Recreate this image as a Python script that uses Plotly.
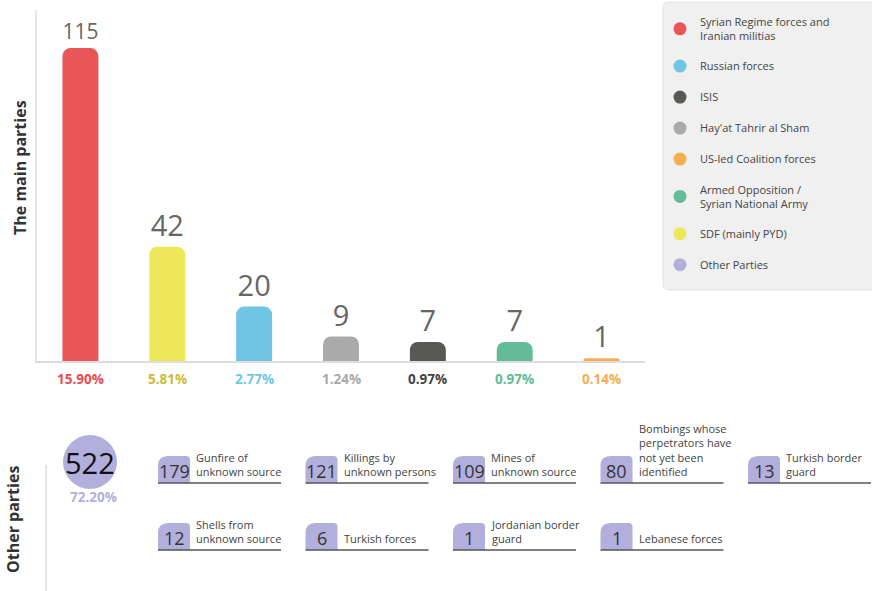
import plotly.graph_objects as go

# ---------------- data ----------------
parties = ["Syrian Regime forces and Iranian militias", "SDF (mainly PYD)", "Russian forces",
           "Hay'at Tahrir al Sham", "ISIS", "Armed Opposition / Syrian National Army",
           "US-led Coalition forces"]
victims = [115, 42, 20, 9, 7, 7, 1]
percents = ["15.90%", "5.81%", "2.77%", "1.24%", "0.97%", "0.97%", "0.14%"]
bar_colors = ["#ea5558", "#efe75a", "#6fc6e2", "#aaaaaa", "#585954", "#63bb97", "#f6ad52"]
pct_colors = ["#e84c50", "#c9bd35", "#6fc6e2", "#aaaaaa", "#444444", "#63bb97", "#f6ad52"]

legend_labels = ["Syrian Regime forces and<br>Iranian militias", "Russian forces", "ISIS",
                 "Hay'at Tahrir al Sham", "US-led Coalition forces",
                 "Armed Opposition /<br>Syrian National Army", "SDF (mainly PYD)", "Other Parties"]
legend_colors = ["#ea5558", "#6fc6e2", "#585954", "#aaaaaa", "#f6ad52", "#63bb97", "#efe75a", "#b3afdc"]

other_total = 522
other_pct = "72.20%"
other_values = [179, 121, 109, 80, 13, 12, 6, 1, 1]
other_labels = ["Gunfire of<br>unknown source", "Killings by<br>unknown persons",
                "Mines of<br>unknown source",
                "Bombings whose<br>perpetrators have<br>not yet been<br>identified",
                "Turkish border<br>guard", "Shells from<br>unknown source", "Turkish forces",
                "Jordanian border<br>guard", "Lebanese forces"]

# ---------------- layout helpers ----------------
W, H = 872, 591
FONT = "Open Sans"
LAV = "#b3afdc"


def X(p):
    return p / W


def Y(p):
    return 1 - p / H


fig = go.Figure()

fig.add_trace(go.Bar(
    x=parties, y=victims, marker=dict(color=bar_colors, line=dict(width=0), cornerradius=8),
    text=[str(v) for v in victims], textposition="outside",
    textfont=dict(size=29, color="#666666", family=FONT),
    cliponaxis=False, showlegend=False, hoverinfo="x+y"))

for i, (lab, col) in enumerate(zip(legend_labels, legend_colors)):
    fig.add_trace(go.Scatter(
        x=[None], y=[None], mode="markers", name=lab, legendgroup=f"g{i}", legendrank=i + 1,
        marker=dict(size=13, color=col, symbol="circle")))

shapes = []
annotations = []


def note(x, y, text, size, color, **kw):
    d = dict(x=x, y=y, xref="paper", yref="paper", text=text, showarrow=False,
             xanchor="center", yanchor="middle",
             font=dict(size=size, color=color, family=FONT))
    d.update(kw)
    annotations.append(d)


# percent labels under bars
for p, pc, col in zip(parties, percents, pct_colors):
    annotations.append(dict(x=p, xref="x", y=Y(379), yref="paper", text=f"<b>{pc}</b>",
                            xanchor="center", yanchor="middle",
                            showarrow=False, font=dict(size=13.5, color=col, family=FONT)))

# side titles
note(X(20), Y(168), "<b>The main parties</b>", 16, "#333333", textangle=-90)
note(X(13), Y(520), "<b>Other parties</b>", 16, "#333333", textangle=-90)


# legend background (rounded)
def rrect(x0, y0, x1, y1, r):
    return (f"M {X(x0+r)},{Y(y0)} L {X(x1-r)},{Y(y0)} Q {X(x1)},{Y(y0)} {X(x1)},{Y(y0+r)} "
            f"L {X(x1)},{Y(y1-r)} Q {X(x1)},{Y(y1)} {X(x1-r)},{Y(y1)} L {X(x0+r)},{Y(y1)} "
            f"Q {X(x0)},{Y(y1)} {X(x0)},{Y(y1-r)} L {X(x0)},{Y(y0+r)} Q {X(x0)},{Y(y0)} {X(x0+r)},{Y(y0)} Z")


shapes.append(dict(type="path", xref="paper", yref="paper", path=rrect(663, 2, 884, 290, 6),
                   fillcolor="#f0f0f0", line=dict(color="#e2e2e2", width=1), layer="below"))

# other parties section
shapes.append(dict(type="line", xref="paper", yref="paper", x0=X(46), x1=X(46), y0=Y(465), y1=Y(591),
                   line=dict(color="#dddddd", width=1.5)))
shapes.append(dict(type="circle", xref="paper", yref="paper", x0=X(63), x1=X(117), y0=Y(435), y1=Y(489),
                   fillcolor=LAV, line=dict(width=0)))
note(X(90), Y(462), str(other_total), 29, "#111111")
note(X(93), Y(497), f"<b>{other_pct}</b>", 13.5, LAV)

COL0, COLSTEP, TABW, TABH, LINEW = 158, 147.5, 32, 27, 123
ROWS_Y = [483, 550]
for i, (v, lab) in enumerate(zip(other_values, other_labels)):
    row, col = divmod(i, 5)
    x0 = COL0 + COLSTEP * col
    yb = ROWS_Y[row]
    yt = yb - TABH
    x1 = x0 + TABW
    r1, r2 = 10, 4
    path = (f"M {X(x0)},{Y(yb)} L {X(x0)},{Y(yt+r1)} Q {X(x0)},{Y(yt)} {X(x0+r1)},{Y(yt)} "
            f"L {X(x1-r2)},{Y(yt)} Q {X(x1)},{Y(yt)} {X(x1)},{Y(yt+r2)} L {X(x1)},{Y(yb)} Z")
    shapes.append(dict(type="path", xref="paper", yref="paper", path=path, fillcolor=LAV,
                       line=dict(width=0)))
    shapes.append(dict(type="line", xref="paper", yref="paper", x0=X(x0), x1=X(x0 + LINEW),
                       y0=Y(yb), y1=Y(yb), line=dict(color="#555555", width=1.3)))
    note(X((x0 + x1) / 2), Y(yb - TABH / 2 + 1), str(v), 18, "#333333")
    note(X(x1 + 4), Y(yb - 2), lab, 11, "#444444", xanchor="left", yanchor="bottom", align="left")

fig.update_layout(
    width=W, height=H, margin=dict(l=0, r=0, t=0, b=0, autoexpand=False),
    paper_bgcolor="white", plot_bgcolor="white",
    font=dict(family=FONT, color="#444444"),
    bargap=0.586,
    xaxis=dict(domain=[X(37), X(645)], showticklabels=False, ticks="", showgrid=False,
               showline=True, linecolor="#dddddd", linewidth=1.5, zeroline=False, fixedrange=True),
    yaxis=dict(domain=[Y(361), Y(10)], range=[0, 129], showticklabels=False, ticks="",
               showgrid=False, showline=True, linecolor="#e6e6e6", linewidth=1.5,
               zeroline=False, fixedrange=True),
    legend=dict(x=X(660), y=Y(8), xanchor="left", yanchor="top", bgcolor="rgba(0,0,0,0)",
                font=dict(size=11, color="#444444", family=FONT), tracegroupgap=12,
                itemsizing="trace"),
    shapes=shapes, annotations=annotations,
)

fig.write_html("out.html", config={"displayModeBar": False},
               post_script="document.body.style.margin='0';document.body.style.overflow='hidden';")
